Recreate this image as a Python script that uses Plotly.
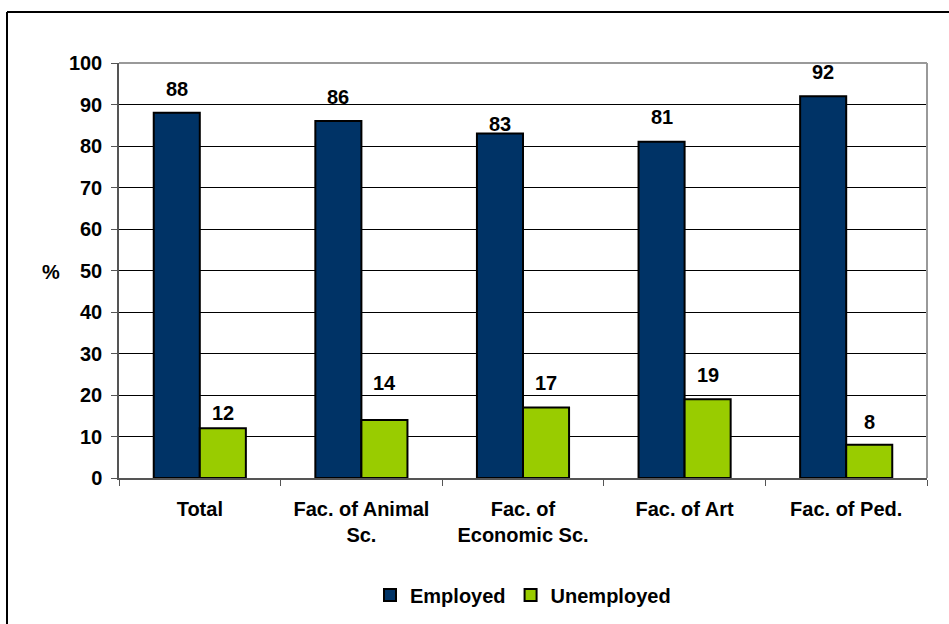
import plotly.graph_objects as go

categories = ["Total", "Fac. of Animal<br>Sc.", "Fac. of<br>Economic Sc.", "Fac. of Art", "Fac. of Ped."]
employed = [88, 86, 83, 81, 92]
unemployed = [12, 14, 17, 19, 8]
y_ticks = [0, 10, 20, 30, 40, 50, 60, 70, 80, 90, 100]

# label offsets above bar tops (pixels) - style only
emp_label_shift = [24, 24, 10, 25, 24]
unemp_label_shift = [15, 37, 24, 24, 23]

FONT = "Liberation Sans, Arial, sans-serif"
FS = 20
W, H = 949, 624
ML, MR, MT, MB = 119, 22, 63, 146
pw, ph = W - ML - MR, H - MT - MB
BARGAP = 0.43
bar_w = pw / len(categories) * (1 - BARGAP) / 2

fig = go.Figure()
fig.add_trace(go.Bar(
    name="Employed", x=categories, y=employed,
    marker=dict(color="#003366", line=dict(color="black", width=2)),
))
fig.add_trace(go.Bar(
    name="Unemployed", x=categories, y=unemployed,
    marker=dict(color="#99CC00", line=dict(color="black", width=2)),
))

for vals, shifts, side in ((employed, emp_label_shift, -1), (unemployed, unemp_label_shift, 1)):
    for c, v, s in zip(categories, vals, shifts):
        fig.add_annotation(x=c, y=v, xref="x", yref="y", text=f"<b>{v}</b>",
                           showarrow=False, xshift=side * bar_w / 2, yshift=s,
                           yanchor="middle", font=dict(family=FONT, size=FS, color="black"))

fig.update_layout(
    width=W, height=H,
    margin=dict(l=ML, r=MR, t=MT, b=MB, autoexpand=False),
    paper_bgcolor="white", plot_bgcolor="white",
    barmode="group", bargap=BARGAP, bargroupgap=0,
    font=dict(family=FONT, size=FS, color="black", weight="bold"),
    showlegend=True,
    legend=dict(orientation="h", x=0.5, xanchor="center", y=(478 - 595) / ph, yanchor="middle",
                font=dict(family=FONT, size=FS, color="black", weight="bold"),
                itemwidth=30, traceorder="normal"),
    xaxis=dict(showgrid=False, showline=True, linecolor="#555555", linewidth=1.5,
               ticks="outside", tickson="boundaries", ticklen=6, tickcolor="#555555",
               ticklabelstandoff=12,
               tickfont=dict(family=FONT, size=FS, color="black", weight="bold")),
    yaxis=dict(range=[0, 100], tickvals=y_ticks, showgrid=True, gridcolor="black", gridwidth=1,
               showline=True, linecolor="#555555", linewidth=1.5,
               ticks="outside", ticklen=6, tickcolor="#555555", ticklabelstandoff=5,
               tickfont=dict(family=FONT, size=FS, color="black", weight="bold"), zeroline=False),
)

# plot-area border (top & right, gray)
fig.add_shape(type="line", xref="paper", yref="paper", x0=0, x1=1, y0=1, y1=1,
              line=dict(color="#999999", width=2))
fig.add_shape(type="line", xref="paper", yref="paper", x0=1, x1=1, y0=0, y1=1,
              line=dict(color="#999999", width=2))

# outer chart frame (top & left)
fx = (7 - ML) / pw
fy = 1 + (MT - 12) / ph
fig.add_shape(type="line", xref="paper", yref="paper", x0=fx, x1=1 + (MR + 5) / pw, y0=fy, y1=fy,
              line=dict(color="black", width=2))
fig.add_shape(type="line", xref="paper", yref="paper", x0=fx, x1=fx, y0=fy, y1=-(MB + 5) / ph,
              line=dict(color="black", width=2))

fig.add_annotation(text="<b>%</b>", xref="paper", yref="paper",
                   x=(51 - ML) / pw, y=(478 - 272) / ph, xanchor="center", yanchor="middle",
                   showarrow=False, font=dict(family=FONT, size=FS, color="black"))

fig.write_html("out.html")
